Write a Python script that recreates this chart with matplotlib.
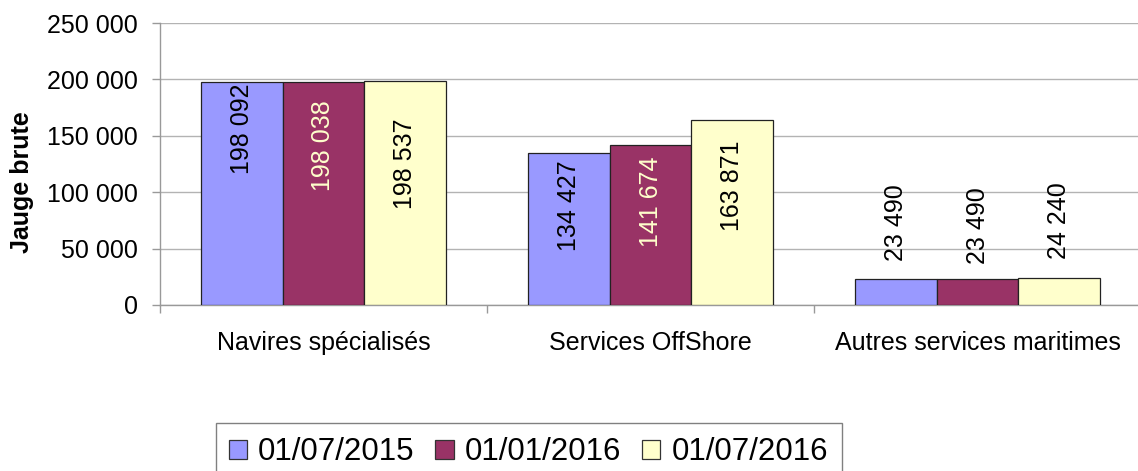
import matplotlib
matplotlib.use("Agg")
import matplotlib.pyplot as plt
from matplotlib.ticker import FixedLocator, FuncFormatter
from matplotlib.patches import Patch, Rectangle

# ---- data ----
categories = ["Navires spécialisés", "Services OffShore", "Autres services maritimes"]
series_names = ["01/07/2015", "01/01/2016", "01/07/2016"]
v_2015_07 = [198092, 134427, 23490]
v_2016_01 = [198038, 141674, 23490]
v_2016_07 = [198537, 163871, 24240]
y_ticks = [0, 50000, 100000, 150000, 200000, 250000]
y_label = "Jauge brute"

# ---- style / layout ----
colors = ["#9999FF", "#993366", "#FFFFCC"]
inside_label_colors = ["black", "#FFFFCC", "black"]
# label offset from bar top in px (negative = inside below top, positive = above)
label_offsets_px = [[-2, -7, 18],
                    [-19, -11, 15],
                    [-37, -20, 19]]

plt.rcParams["font.family"] = ["Liberation Sans", "DejaVu Sans"]

W, H = 1138, 471
fig = plt.figure(figsize=(W / 100, H / 100), dpi=100)
ax = fig.add_axes([160 / W, (H - 305) / H, 981 / W, 282 / H])

series = [v_2015_07, v_2016_01, v_2016_07]
bw = 0.25
fmt = lambda v: f"{int(v):,}".replace(",", " ")

for j, vals in enumerate(series):
    xs = [i + (j - 1) * bw for i in range(len(categories))]
    ax.bar(xs, vals, width=bw, color=colors[j], edgecolor="#222222",
           linewidth=0.9, zorder=3)
    for i, (x, v) in enumerate(zip(xs, vals)):
        off = label_offsets_px[j][i] * 0.72
        inside = off < 0
        ax.annotate(fmt(v), xy=(x, v), xytext=(0, off), textcoords="offset points",
                    rotation=90, ha="center", va="top" if inside else "bottom",
                    fontsize=18, color=inside_label_colors[j] if inside else "black",
                    zorder=4)

ax.set_xlim(-0.5, len(categories) - 0.5)
ax.set_ylim(0, 250000)

ax.yaxis.set_major_locator(FixedLocator(y_ticks))
ax.yaxis.set_major_formatter(FuncFormatter(lambda v, p: fmt(v)))
ax.tick_params(axis="y", length=6, width=1, color="#999999", pad=10, labelsize=18)

ax.xaxis.set_major_locator(FixedLocator([i - 0.5 for i in range(len(categories) + 1)]))
ax.xaxis.set_major_formatter(FuncFormatter(lambda v, p: ""))
ax.xaxis.set_minor_locator(FixedLocator(list(range(len(categories)))))
ax.set_xticklabels(categories, minor=True)
ax.tick_params(axis="x", which="major", length=6, width=1, color="#999999")
ax.tick_params(axis="x", which="minor", length=0, pad=19, labelsize=18)

ax.grid(axis="y", color="#b3b3b3", linewidth=1, zorder=0)
ax.set_axisbelow(True)
for s in ["top", "right"]:
    ax.spines[s].set_visible(False)
for s in ["left", "bottom"]:
    ax.spines[s].set_color("#999999")
    ax.spines[s].set_linewidth(1)

fig.text(22 / W, 1 - 182 / H, y_label, rotation=90, ha="center", va="center",
         fontsize=18, fontweight="bold")

handles = [Patch(facecolor=c, edgecolor="#333333", linewidth=0.9) for c in colors]
leg = fig.legend(handles, series_names, loc="upper left",
                 bbox_to_anchor=(216 / W, 1 - 425 / H), ncol=3, fontsize=22.5,
                 frameon=False, borderpad=0.4,
                 handlelength=0.59, handleheight=0.59, handletextpad=0.36,
                 columnspacing=0.66, borderaxespad=0)
# legend frame, running past the bottom edge of the image as in the reference
fig.patches.append(Rectangle((216 / W, -0.05), 626 / W, 0.05 + (H - 423) / H,
                             transform=fig.transFigure, fill=False,
                             edgecolor="#808080", linewidth=1))

fig.savefig("out.png", dpi=100)
